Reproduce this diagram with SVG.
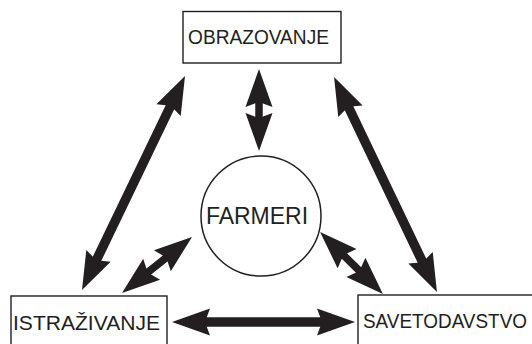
<svg xmlns="http://www.w3.org/2000/svg" width="532" height="344" viewBox="0 0 532 344">
<style>
.box{fill:#fff;stroke:#231f20;stroke-width:1.4}
.lbl{font-family:"Liberation Sans",Arial,sans-serif;fill:#231f20;text-anchor:middle}
.arr{stroke:#231f20;fill:none;marker-start:url(#head);marker-end:url(#head)}
</style>
<defs>
<marker id="head" markerUnits="userSpaceOnUse" orient="auto-start-reverse" refX="0" refY="0" markerWidth="1" markerHeight="1" overflow="visible">
<path d="M30,0 L-8,-13.5 L-3,0 L-8,13.5 Z" fill="#231f20"/>
</marker>
</defs>
<rect width="532" height="344" fill="#fff"/>
<g id="connectors">
<line class="arr" x1="259" y1="99" x2="259" y2="121" stroke-width="7.5"/>
<line class="arr" x1="95" y1="263" x2="172" y2="103" stroke-width="9.5"/>
<line class="arr" x1="347" y1="104" x2="424" y2="265" stroke-width="9.5"/>
<line class="arr" x1="202" y1="322" x2="325" y2="322" stroke-width="9.5"/>
<line class="arr" x1="145.4" y1="274.3" x2="168.6" y2="255.7" stroke-width="7.5"/>
<line class="arr" x1="341.4" y1="253" x2="361.6" y2="273" stroke-width="7.5"/>
</g>
<g id="obrazovanje">
<rect class="box" x="183" y="11.5" width="158" height="51.5"/>
<text class="lbl" x="258.5" y="43.5" font-size="19.5" textLength="141" lengthAdjust="spacingAndGlyphs">OBRAZOVANJE</text>
</g>
<g id="farmeri">
<circle cx="261" cy="216" r="60" fill="#fff" stroke="#231f20" stroke-width="1.5"/>
<text class="lbl" x="257" y="224" font-size="23">FARMERI</text>
</g>
<g id="istrazivanje">
<rect class="box" x="11" y="296" width="156" height="60"/>
<text class="lbl" x="86.5" y="330" font-size="20" textLength="147" lengthAdjust="spacingAndGlyphs">ISTRAŽIVANJE</text>
</g>
<g id="savetodavstvo">
<rect class="box" x="358" y="295" width="190" height="60"/>
<text class="lbl" x="445" y="328" font-size="19.5" textLength="164" lengthAdjust="spacingAndGlyphs">SAVETODAVSTVO</text>
</g>
</svg>
